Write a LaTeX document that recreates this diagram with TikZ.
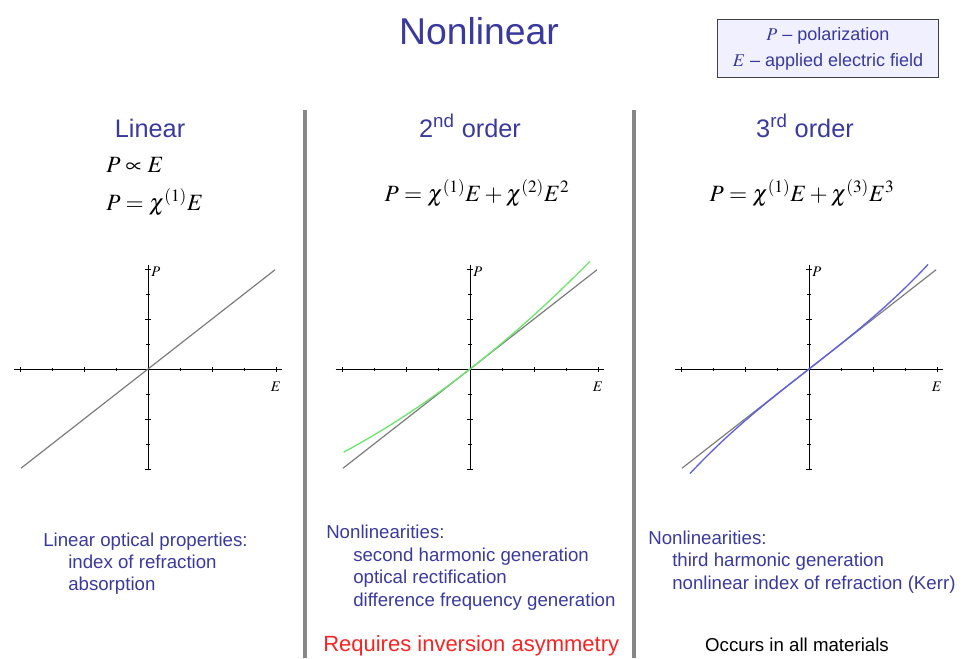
\documentclass[tikz,border=0pt]{standalone}
\usepackage{mathptmx}
\usepackage[no-math]{fontspec}
\setmainfont{Liberation Sans}
\usetikzlibrary{positioning}

\definecolor{textblue}{RGB}{58,58,158}
\definecolor{curvegreen}{RGB}{110,228,110}
\definecolor{curveblue}{RGB}{95,95,228}
\definecolor{linegray}{RGB}{125,125,125}
\definecolor{divgray}{RGB}{135,135,135}
\definecolor{legendfill}{RGB}{240,240,255}
\definecolor{notered}{RGB}{250,35,35}

\tikzset{
  body/.style={font=\fontsize{14}{17}\selectfont, text=textblue, inner sep=0pt, anchor=base west},
  header/.style={font=\fontsize{19}{22}\selectfont, text=textblue, inner sep=0pt, anchor=base},
  eqn/.style={font=\fontsize{17.5}{20}\selectfont, inner sep=0pt},
  axislabel/.style={font=\fontsize{11}{12}\selectfont, inner sep=0pt},
  divider/.style={divgray, line width=3pt},
  axis/.style={black, line width=0.6pt},
  tick/.style={black, line width=0.5pt}
}

\begin{document}
\begin{tikzpicture}[x=0.75pt, y=-0.75pt]
    \useasboundingbox (0,0) rectangle (963,658);

    % title and legend
    \node (title) [header, font=\fontsize{28}{32}\selectfont] at (479,44) {Nonlinear};
    \node (legend) [draw=darkgray, fill=legendfill, line width=0.8pt, minimum width=166pt, minimum height=43pt,
        align=center, text=textblue, font=\fontsize{13.5}{19.5}\selectfont] at (828,48.5)
        {$P$ -- polarization\\$E$ -- applied electric field};

    % column dividers
    \draw[divider] (305,110) -- (305,658);
    \draw[divider] (634,110) -- (634,658);

    % column headers
    \node (lin-head) [header] at (150,137) {Linear};
    \node (sec-head) [header] at (470,137) {2\textsuperscript{nd} order};
    \node (thi-head) [header] at (805,137) {3\textsuperscript{rd} order};

    % equations
    \node (lin-prop) [eqn, anchor=base west] at (106,172) {$P\propto E$};
    \node (lin-eq) [eqn, anchor=base west] at (106,210) {$P=\chi^{(1)}E$};
    \node (sec-eq) [eqn, anchor=base] at (477,201) {$P=\chi^{(1)}E+\chi^{(2)}E^{2}$};
    \node (thi-eq) [eqn, anchor=base] at (802,201) {$P=\chi^{(1)}E+\chi^{(3)}E^{3}$};

    % axes with the linear response
    \foreach \ox/\nm in {148/lin, 470/sec, 809/thi}{
        \begin{scope}[shift={(\ox,369)}, x=24pt, y=18.75pt]
            \draw[axis] (-4.2,0) -- (4.2,0);
            \draw[axis] (0,-4.05) -- (0,4.15);
            \foreach \k in {-3,-1,1,3}{
                \draw[tick] (\k,-0.06) -- (\k,0.06);
                \draw[tick] (-0.05,\k) -- (0.05,\k);
            }
            \foreach \k in {-4,-2,2,4}{
                \draw[tick] (\k,-0.1) -- (\k,0.1);
                \draw[tick] (-0.08,\k) -- (0.08,\k);
            }
            \draw[linegray, line width=0.9pt] (-3.97,-3.97) -- (3.97,3.97);
            \node (p-\nm) [axislabel, anchor=west] at (0.1,3.9) {$P$};
            \node (e-\nm) [axislabel] at (4.0,-0.72) {$E$};
        \end{scope}
    }

    % nonlinear responses
    \begin{scope}[shift={(470,369)}, x=24pt, y=18.75pt]
        \draw[curvegreen, line width=1pt] plot[domain=-3.95:3.75, samples=60] (\x, {\x+0.04*\x*\x});
    \end{scope}
    \begin{scope}[shift={(809,369)}, x=24pt, y=18.75pt]
        \draw[curveblue, line width=1pt] plot[domain=-3.72:3.72, samples=60] (\x, {\x+0.009*\x*\x*\x});
    \end{scope}

    % effects
    \node (lin-a) [body] at (43,546) {Linear optical properties:};
    \node (lin-b) [body] at (68,568) {index of refraction};
    \node (lin-c) [body] at (68,590) {absorption};

    \node (sec-a) [body] at (326,538) {Nonlinearities:};
    \node (sec-b) [body] at (353,561) {second harmonic generation};
    \node (sec-c) [body] at (353,583) {optical rectification};
    \node (sec-d) [body] at (353,606) {difference frequency generation};
    \node (sec-note) [body, text=notered, font=\fontsize{16.5}{19}\selectfont] at (323,651) {Requires inversion asymmetry};

    \node (thi-a) [body] at (648,544) {Nonlinearities:};
    \node (thi-b) [body] at (672,566) {third harmonic generation};
    \node (thi-c) [body] at (672,589) {nonlinear index of refraction (Kerr)};
    \node (thi-note) [body, text=black, anchor=base] at (797,651) {Occurs in all materials};
\end{tikzpicture}
\end{document}
